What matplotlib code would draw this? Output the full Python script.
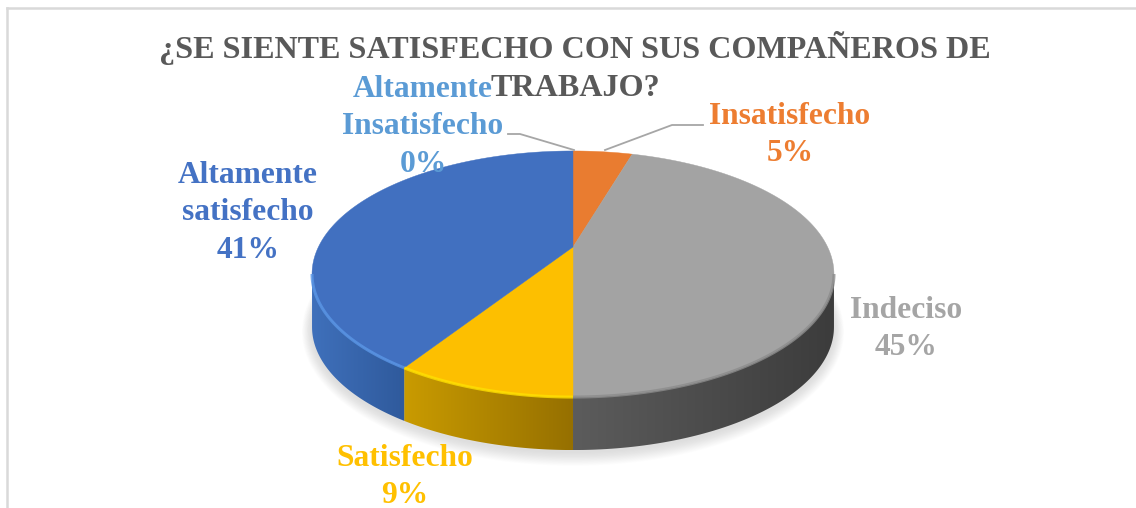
import numpy as np
import matplotlib
matplotlib.use("Agg")
import matplotlib.pyplot as plt
from matplotlib.patches import Polygon

# survey counts, 22 answers in total
categories = ["Altamente\nInsatisfecho", "Insatisfecho", "Indeciso", "Satisfecho", "Altamente\nsatisfecho"]
counts = [0, 1, 10, 2, 9]
top_colors = ["#5b9bd5", "#e97c30", "#a3a3a3", "#fdbf00", "#4170c0"]
text_colors = ["#5b9bd5", "#ed7d31", "#a5a5a5", "#ffc000", "#4472c4"]
rim_colors = ["#5b9bd5", "#e97c30", "#8c8c8c", "#ffe000", "#5a96e6"]
side_left = ["#3f6cb0", "#c0651f", "#5c5c5c", "#c99b00", "#3f70bb"]
side_right = ["#3f6cb0", "#c0651f", "#3c3c3c", "#967000", "#2f5a9c"]
label_pos = [(423, 127), (790, 135), (906, 329), (405, 477), (248, 213)]
title = "¿SE SIENTE SATISFECHO CON SUS COMPAÑEROS DE\nTRABAJO?"

plt.rcParams["font.family"] = ["Liberation Serif", "DejaVu Serif"]

fig = plt.figure(figsize=(11.36, 5.08), dpi=100)
ax = fig.add_axes([0, 0, 1, 1])
ax.set_xlim(0, 1136)
ax.set_ylim(508, 0)
ax.axis("off")

# the pie is tilted: circle points go through a perspective map
cx, cy, k, a_x, b_y = 573, 247, 0.2195, 254.6, -62.9
depth = 53
tangent = np.degrees(np.arccos(-k))


def project(deg, dy=0.0):
    t = np.radians(deg)
    u, v = np.sin(t), np.cos(t)
    w = 1 + k * v
    return cx + a_x * u / w, (cy + b_y * v) / w + dy


edges = np.cumsum([0] + counts) / sum(counts) * 360

# soft shadow under the disc
all_deg = np.linspace(0, 360, 361)
for grow in range(1, 13):
    sx, sy = project(all_deg, depth + 2)
    sx = cx + (sx - cx) * (1 + grow * 0.0032)
    sy = 300 + (sy - 300) * (1 + grow * 0.0075)
    ax.fill(sx, sy, color="#808080", alpha=0.02, lw=0, zorder=1)

# side wall, gradient clipped to each slice
for i in range(len(counts)):
    a0 = max(edges[i], tangent)
    a1 = min(edges[i + 1], 360 - tangent)
    if a1 <= a0:
        continue
    deg = np.linspace(a0, a1, 80)
    x, y = project(deg)
    xs = np.r_[x, x[::-1]]
    ys = np.r_[y, y[::-1] + depth]
    poly = Polygon(np.c_[xs, ys], closed=True, fc="none", ec="none", zorder=2)
    ax.add_patch(poly)
    left = matplotlib.colors.to_rgb(side_left[i])
    right = matplotlib.colors.to_rgb(side_right[i])
    grad = np.linspace(left, right, 128)[None, :, :]
    im = ax.imshow(grad, extent=(xs.min(), xs.max(), ys.max(), ys.min()),
                   aspect="auto", zorder=2, interpolation="bilinear")
    im.set_clip_path(poly)
ax.set_xlim(0, 1136)
ax.set_ylim(508, 0)

# top face
for i in range(len(counts)):
    if counts[i] == 0:
        continue
    deg = np.linspace(edges[i], edges[i + 1], 200)
    x, y = project(deg)
    ax.fill(np.r_[cx, x], np.r_[cy, y], color=top_colors[i], lw=0.3, zorder=3)

# bevel highlight along the front edge
for i in range(len(counts)):
    a0 = max(edges[i], tangent)
    a1 = min(edges[i + 1], 360 - tangent)
    if a1 <= a0:
        continue
    x, y = project(np.linspace(a0, a1, 80))
    ax.plot(x, y, color=rim_colors[i], lw=2.2, alpha=0.8, zorder=4, solid_capstyle="butt")

# chart frame
ax.plot([7, 7], [508, 8], color="#d9d9d9", lw=1.8, zorder=1)
ax.plot([7, 1136], [8, 8], color="#d9d9d9", lw=1.8, zorder=1)

# leader lines
ax.plot([508, 520, 574], [134, 134, 150], color="#a6a6a6", lw=1.3, zorder=5)
ax.plot([605, 672, 703], [150, 125, 125], color="#a6a6a6", lw=1.3, zorder=5)

ax.text(575, 67, title, ha="center", va="center", fontsize=23.1, fontweight="bold",
        color="#595959", linespacing=1.38, zorder=6)

for name, n, col, pos in zip(categories, counts, text_colors, label_pos):
    pct = round(100 * n / sum(counts))
    ax.text(pos[0], pos[1], f"{name}\n{pct}%", ha="center", va="center", fontsize=22.7,
            fontweight="bold", color=col, linespacing=1.38, zorder=7)

fig.savefig("out.png", dpi=100)
